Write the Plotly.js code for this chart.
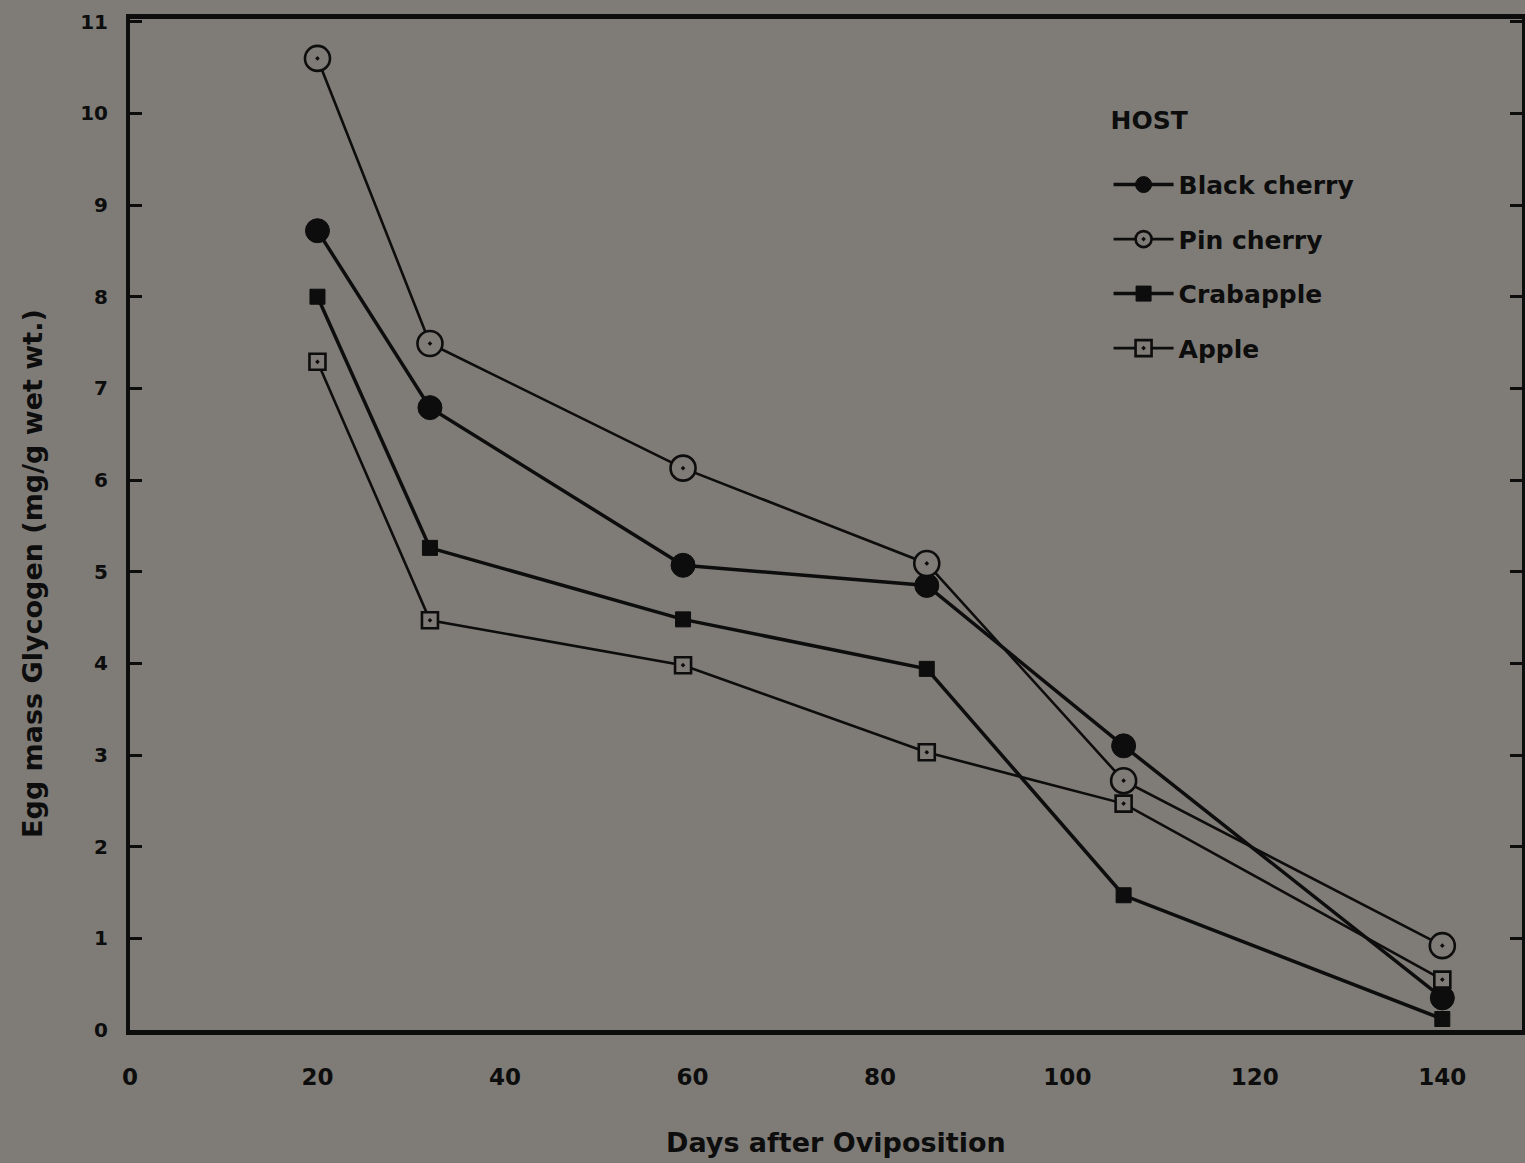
<!DOCTYPE html>
<html>
<head>
<meta charset="utf-8">
<script src="https://cdn.plot.ly/plotly-3.0.1.min.js"></script>
<style>html,body{margin:0;padding:0;background:#7f7c77;}</style>
</head>
<body>
<div id="chart" style="width:1525px;height:1163px;"></div>
<script>
// Data
const days = [20, 32, 59, 85, 106, 140];
const blackCherry = [8.72, 6.79, 5.07, 4.85, 3.10, 0.35];
const pinCherry   = [10.60, 7.49, 6.13, 5.09, 2.72, 0.92];
const crabapple   = [8.00, 5.26, 4.48, 3.94, 1.47, 0.12];
const apple       = [7.29, 4.47, 3.98, 3.03, 2.47, 0.55];
const seriesNames = ['Black cherry', 'Pin cherry', 'Crabapple', 'Apple'];
const yTicks = [0,1,2,3,4,5,6,7,8,9,10,11];
const xTicks = [0,20,40,60,80,100,120,140];

const BG = '#7f7c77';
const INK = '#0d0d0d';
const FONT = 'DejaVu Sans, Arial, sans-serif';

const traces = [
  {x: days, y: blackCherry, name: seriesNames[0], legendgroup: 'a', mode: 'lines+markers',
   line: {color: INK, width: 3.5},
   marker: {symbol: 'circle', size: 24, color: INK, line: {color: INK, width: 1}}},
  {x: days, y: pinCherry, name: seriesNames[1], legendgroup: 'b', mode: 'lines+markers',
   line: {color: INK, width: 2.6},
   marker: {symbol: 'circle-dot', size: 25, color: BG, line: {color: INK, width: 2.6}}},
  {x: days, y: crabapple, name: seriesNames[2], legendgroup: 'c', mode: 'lines+markers',
   line: {color: INK, width: 3.5},
   marker: {symbol: 'square', size: 15, color: INK, line: {color: INK, width: 1}}},
  {x: days, y: apple, name: seriesNames[3], legendgroup: 'd', mode: 'lines+markers',
   line: {color: INK, width: 2.6},
   marker: {symbol: 'square-dot', size: 16, color: BG, line: {color: INK, width: 2.6}}}
];

const layout = {
  width: 1525, height: 1163,
  paper_bgcolor: BG, plot_bgcolor: BG,
  margin: {l: 130, r: 3, t: 19, b: 133},
  showlegend: true,
  font: {family: FONT, color: INK},
  xaxis: {
    range: [0, 148.5], tickvals: xTicks, ticktext: xTicks.map(String),
    showgrid: false, zeroline: false, showline: true, linewidth: 5, linecolor: INK,
    mirror: true, ticks: '', ticklabelstandoff: 22,
    tickfont: {family: FONT, size: 23, weight: 'bold', color: INK}
  },
  yaxis: {
    range: [0, 11.03], tickvals: yTicks, ticktext: yTicks.map(String),
    showgrid: false, zeroline: false, showline: true, linewidth: 4, linecolor: INK,
    mirror: 'ticks', ticks: 'inside', ticklen: 12, tickwidth: 3, tickcolor: INK,
    ticklabelstandoff: 14,
    tickfont: {family: FONT, size: 20, weight: 'bold', color: INK}
  },
  legend: {
    x: 0.703, y: 0.923, xanchor: 'left', yanchor: 'top',
    bgcolor: 'rgba(0,0,0,0)', borderwidth: 0,
    title: {text: 'HOST<br> ', font: {family: FONT, size: 25, color: INK}},
    font: {family: FONT, size: 25, weight: 'bold', color: INK},
    tracegroupgap: 19, itemwidth: 60
  },
  annotations: [
    {text: 'Days after Oviposition', xref: 'paper', yref: 'paper', x: 0.507, y: -0.1115,
     xanchor: 'center', yanchor: 'middle', showarrow: false,
     font: {family: FONT, size: 27, weight: 'bold', color: INK}},
    {text: 'Egg mass Glycogen (mg/g wet wt.)', xref: 'paper', yref: 'paper', x: -0.0705, y: 0.452,
     xanchor: 'center', yanchor: 'middle', showarrow: false, textangle: -90,
     font: {family: FONT, size: 27, weight: 'bold', color: INK}}
  ]
};

Plotly.newPlot('chart', traces, layout, {displayModeBar: false, staticPlot: true});
</script>
</body>
</html>
